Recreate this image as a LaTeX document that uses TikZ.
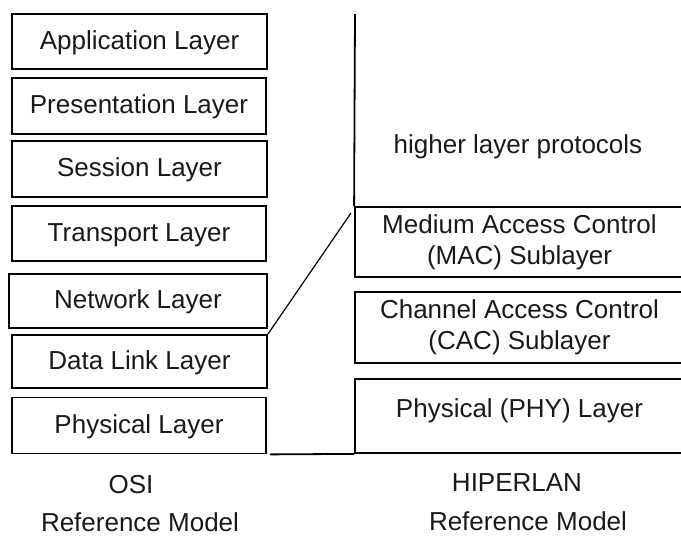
\documentclass[tikz,border=0pt]{standalone}
\usepackage{fontspec}
\setmainfont{Liberation Sans}
\begin{document}
\begin{tikzpicture}[x=1pt,y=-1pt,
  every node/.style={font=\fontsize{26}{31}\selectfont, text=black!90},
  layerbox/.style={draw=black, line width=1.8pt, inner sep=0pt, text height=18.6pt, text depth=3pt},
  subbox/.style={draw=black, line width=1.8pt, inner sep=0pt, align=center},
  plain/.style={inner sep=0pt, text height=18.6pt, text depth=0pt},
  link/.style={line width=1.8pt},
  thinlink/.style={line width=1.2pt}]
\clip (0,0) rectangle (681,536);

% OSI reference model stack
\node[layerbox, minimum width=255, minimum height=55] (app)   at (139.5,41.5) {Application Layer};
\node[layerbox, minimum width=254, minimum height=56] (pres)  at (139,106)    {Presentation Layer};
\node[layerbox, minimum width=255, minimum height=56] (sess)  at (139.5,169)  {Session Layer};
\node[layerbox, minimum width=254, minimum height=55] (trans) at (139,233.5)  {Transport Layer};
\node[layerbox, minimum width=258, minimum height=54] (net)   at (138,301)    {Network Layer};
\node[layerbox, minimum width=255, minimum height=53] (dl)    at (139.5,361.5){Data Link Layer};
\node[layerbox, minimum width=254, minimum height=56] (phys)  at (139,425.5)  {Physical Layer};

% HIPERLAN reference model stack (boxes run off the right edge)
\node[subbox, minimum width=329, minimum height=70] (mac) at (519.5,242)
  {Medium Access Control\\(MAC) Sublayer};
\node[subbox, minimum width=329, minimum height=71] (cac) at (519.5,327.5)
  {Channel Access Control\\(CAC) Sublayer};
\node[subbox, minimum width=329, minimum height=74, text height=18.6pt, text depth=16pt] (phy) at (519.5,416)
  {Physical (PHY) Layer};
\coordinate (top) at (355,14);
\draw[link] (top) -- (mac.north west);
\node[plain] (hlp) at (518,144) {higher layer protocols};

% correspondences between the two models
\coordinate (macfoot) at (351,213);
\draw[thinlink] (dl.north east) -- (macfoot);
\draw[link] ([xshift=3pt]phys.south east) -- (phy.south west);

% captions
\node[plain] (osi)   at (131,484)   {OSI};
\node[plain] (osirm) at (140,522.5) {Reference Model};
\node[plain] (hip)   at (517,482)   {HIPERLAN};
\node[plain] (hiprm) at (528,521.5) {Reference Model};
\end{tikzpicture}
\end{document}
